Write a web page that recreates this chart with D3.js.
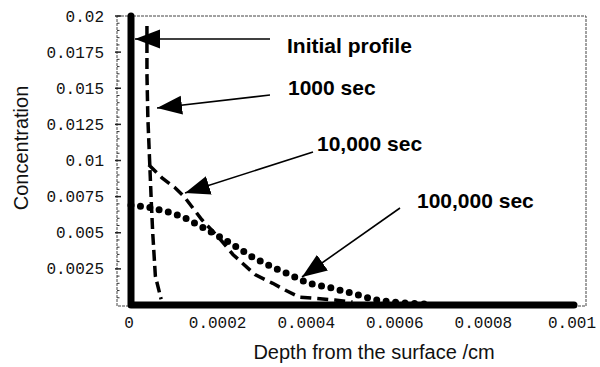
<!DOCTYPE html>
<html>
<head>
    <meta charset="utf-8">
    <style>
        body { margin: 0; background: #fff; }
        .tick-label { font: 16px "Liberation Mono", "Courier New", monospace; fill: #111; }
        .axis-title { font: 20px "Liberation Sans", Arial, sans-serif; fill: #111; }
        .note { font: bold 21px "Liberation Sans", Arial, sans-serif; fill: #000; }
    </style>
</head>
<body>
    <div id="container"></div>
    <script src="https://d3js.org/d3.v7.min.js"></script>
    <script>
        // depth /cm and concentration for each profile
        var initialDepth = [0, 0, 0.001];
        var initialConc = [0.02, 0, 0];

        var depth1000 = [0.000036, 0.000036, 0.000038, 0.000042, 0.000046, 0.000049, 0.000055, 0.000068];
        var conc1000 = [0.0193, 0.016, 0.013, 0.010, 0.007, 0.005, 0.002, 0.0004];

        var depth10k = [0.00004, 0.00007, 0.0001, 0.00012, 0.00016, 0.0002, 0.00023, 0.00028, 0.00032, 0.00035, 0.00038, 0.00046, 0.0005];
        var conc10k = [0.0097, 0.0088, 0.0081, 0.0075, 0.0059, 0.0046, 0.0035, 0.0021, 0.0015, 0.001, 0.00055, 0.00035, 0.0002];

        var depth100k = [0, 0.000036, 0.000077, 0.000117, 0.00016, 0.000196, 0.000239, 0.000275, 0.00032, 0.000359, 0.0004, 0.00045, 0.0005, 0.000535, 0.00056, 0.00061, 0.00068];
        var conc100k = [0.0069, 0.0068, 0.0065, 0.0061, 0.0054, 0.0048, 0.0040, 0.0033, 0.0026, 0.0021, 0.0015, 0.0012, 0.0008, 0.0005, 0.0003, 0.00015, 0.00005];

        var xTicks = [0, 0.0002, 0.0004, 0.0006, 0.0008, 0.001];
        var xTickLabels = ["0", "0.0002", "0.0004", "0.0006", "0.0008", "0.001"];
        var yTicks = [0.0025, 0.005, 0.0075, 0.01, 0.0125, 0.015, 0.0175, 0.02];
        var yTickLabels = ["0.0025", "0.005", "0.0075", "0.01", "0.0125", "0.015", "0.0175", "0.02"];

        var noteTexts = ["Initial profile", "1000 sec", "10,000 sec", "100,000 sec"];

        var width = 600, height = 367;
        var frame = { left: 117, right: 586, top: 16, bottom: 306 };

        var x = d3.scaleLinear().domain([0, 0.001]).range([131, 574]);
        var y = d3.scaleLinear().domain([0, 0.02]).range([305, 16]);

        var svg = d3.select("#container").append("svg")
            .attr("width", width)
            .attr("height", height);

        svg.append("defs").append("marker")
            .attr("id", "head")
            .attr("markerUnits", "userSpaceOnUse")
            .attr("viewBox", "0 -10 25 20")
            .attr("refX", 25).attr("refY", 0)
            .attr("markerWidth", 25).attr("markerHeight", 20)
            .attr("orient", "auto")
            .append("path")
            .attr("d", "M0,-9.5L25,0L0,9.5Z")
            .attr("fill", "#000");

        // frame
        svg.append("rect")
            .attr("x", frame.left).attr("y", frame.top)
            .attr("width", frame.right - frame.left)
            .attr("height", frame.bottom - frame.top)
            .attr("fill", "none")
            .attr("stroke", "#444")
            .attr("stroke-width", 1)
            .attr("stroke-dasharray", "3,1");

        // y ticks (major + minor, inward)
        var yAxis = svg.append("g").attr("transform", "translate(" + frame.left + ",0)");
        var yMinor = d3.range(1, 40).map(d => d * 0.0005).filter(d => yTicks.indexOf(+d.toFixed(4)) < 0);
        yAxis.selectAll("line.minor").data(yMinor).join("line")
            .attr("x1", 0).attr("x2", 2.5)
            .attr("y1", d => y(d)).attr("y2", d => y(d))
            .attr("stroke", "#333");
        yAxis.selectAll("line.major").data(yTicks).join("line")
            .attr("x1", -2).attr("x2", 4)
            .attr("y1", d => y(d)).attr("y2", d => y(d))
            .attr("stroke", "#222").attr("stroke-width", 1.5);
        yAxis.selectAll("text").data(yTicks).join("text")
            .attr("class", "tick-label")
            .attr("x", -13)
            .attr("y", d => y(d))
            .attr("dy", "0.35em")
            .attr("text-anchor", "end")
            .text((d, i) => yTickLabels[i]);

        // x ticks
        var xAxis = svg.append("g");
        var xMinor = d3.range(1, 25).map(d => d * 0.00005).filter(d => d < 0.001);
        xAxis.selectAll("line").data(xMinor).join("line")
            .attr("x1", d => x(d)).attr("x2", d => x(d))
            .attr("y1", frame.bottom).attr("y2", frame.bottom - 2.5)
            .attr("stroke", "#333");
        xAxis.selectAll("text").data(xTicks).join("text")
            .attr("class", "tick-label")
            .attr("x", d => x(d) - 2)
            .attr("y", 328)
            .attr("text-anchor", "middle")
            .text((d, i) => xTickLabels[i]);

        // axis titles
        svg.append("text")
            .attr("class", "axis-title")
            .attr("transform", "translate(28,148) rotate(-90)")
            .attr("text-anchor", "middle")
            .text("Concentration");
        svg.append("text")
            .attr("class", "axis-title")
            .attr("x", 374).attr("y", 359)
            .attr("text-anchor", "middle")
            .text("Depth from the surface /cm");

        var line = d3.line().x(d => x(d[0])).y(d => y(d[1]));
        function pairs(xs, ys) { return xs.map((d, i) => [d, ys[i]]); }

        // 100,000 sec: big dots
        svg.append("path")
            .datum(pairs(depth100k, conc100k))
            .attr("d", line)
            .attr("fill", "none")
            .attr("stroke", "#000")
            .attr("stroke-width", 7)
            .attr("stroke-linecap", "round")
            .attr("stroke-dasharray", "0,9.5");

        // 10,000 sec: dashes
        svg.append("path")
            .datum(pairs(depth10k, conc10k))
            .attr("d", line)
            .attr("fill", "none")
            .attr("stroke", "#000")
            .attr("stroke-width", 3.5)
            .attr("stroke-dasharray", "11,6");

        // 1000 sec: dashes
        svg.append("path")
            .datum(pairs(depth1000, conc1000))
            .attr("d", line)
            .attr("fill", "none")
            .attr("stroke", "#000")
            .attr("stroke-width", 3.5)
            .attr("stroke-dasharray", "11,5");

        // initial profile: thick step
        svg.append("path")
            .datum(pairs(initialDepth, initialConc))
            .attr("d", line)
            .attr("fill", "none")
            .attr("stroke", "#000")
            .attr("stroke-width", 7)
            .attr("stroke-linecap", "round")
            .attr("stroke-linejoin", "round");

        // annotations: label position and arrow (start -> tip), in pixels
        var notes = [
            { tx: 287, ty: 53, x1: 270, y1: 39, x2: 135, y2: 39 },
            { tx: 288, ty: 95, x1: 270, y1: 95, x2: 157, y2: 108 },
            { tx: 317, ty: 151, x1: 313, y1: 152, x2: 185, y2: 193 },
            { tx: 417, ty: 208, x1: 400, y1: 208, x2: 302, y2: 277 }
        ];

        svg.append("g").selectAll("line").data(notes).join("line")
            .attr("x1", d => d.x1).attr("y1", d => d.y1)
            .attr("x2", d => d.x2).attr("y2", d => d.y2)
            .attr("stroke", "#000")
            .attr("stroke-width", 1.6)
            .attr("marker-end", "url(#head)");

        svg.append("g").selectAll("text").data(notes).join("text")
            .attr("class", "note")
            .attr("x", d => d.tx).attr("y", d => d.ty)
            .text((d, i) => noteTexts[i]);
    </script>
</body>
</html>
